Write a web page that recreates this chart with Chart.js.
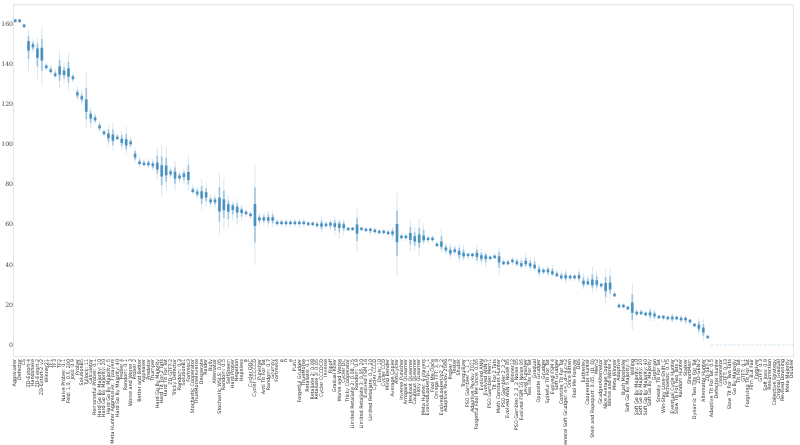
<!DOCTYPE html>
<html>
<head>
<meta charset="utf-8">
<title>Rank distribution</title>
<script src="https://cdn.jsdelivr.net/npm/chart.js@4.4.1/dist/chart.umd.min.js"></script>
<style>
  html, body { margin: 0; padding: 0; background: #fff; }
  #wrap { width: 800px; height: 445px; }
</style>
</head>
<body>
<div id="wrap"><canvas id="chart" width="800" height="445"></canvas></div>
<script>
/* ── Data ──────────────────────────────────────────────────── */
const strategies = [
  'Aggravater','Defector','CS','ZD-Extort-4','Handshake','ZD-Extort-2','ZD-Extort-2 v2','Winner21','TF1','TF3',
  'TF2','Naive Prober: 0.1','Feld: 1.0, 0.5, 200','Joss: 0.9','Prober','SolutionB5','Tullock: 11','Calculator','Remorseful Prober: 0.1','Hard Go By Majority: 10',
  'Hard Go By Majority: 20','Hard Go By Majority: 5','Meta Hunter Aggressive: 7 players','Hard Go By Majority: 40','Prober 4','Random: 0.1','Worse and Worse 3','Prober 2','Better and Better','Appeaser',
  'Predator','Thumper','Hard Go By Majority','Hard Tit For 2 Tats','Hard Tit For Tat','ZD-GTFT-2','Tricky Defector','Random: 0.3','SolutionB1','Fortress3',
  'Stochastic Cooperator','ThueMorseInverse','Desperate','Raider','Bully','Alternator','Stochastic WSLS: 0.05','Random: 0.5','SelfSteem','Hard Prober',
  'Negation','Hopeless','ϕ','Cycler DDC','Cycler CCCCCD','Punisher','Anti Tit For Tat','Random: 0.7','Grumpy','Fortress4',
  'φ','π','e','Pun1','Forgetful Grudger','ThueMorse','Retaliate: 0.1','Retaliate 2: 0.08','Retaliate 3: 0.05','Cycler CCCDCD',
  'Inverse','Ripoff','Gradual Killer','Worse and Worse','Cycler DC','Tricky Cooperator','Limited Retaliate 2: 0.08, 15','Random: 0.9','Limited Retaliate 3: 0.05, 20','Evolved FSM 16',
  'Limited Retaliate: 0.1, 20','Cycler CCCD','Davis: 10','Cycler CCD','Mind Bender','Average Copier','AntiCycler','Inverse Punisher','Arrogant QLearner','Hesitant QLearner',
  'Cautious QLearner','Risky QLearner','Meta Hunter: 6 players','EvolvedLookerUp1_1_1','Fool Me Once','Omega TFT: 3, 8','EvolvedLookerUp2_2_2','Adaptive Pavlov 2006','Prober 3','Tester',
  'Shubik','Tranquilizer','PSO Gambler 1_1_1','Adaptive Pavlov 2011','Forgetful Fool Me Once: 0.05','Evolved ANN','Evolved ANN 5','PSO Gambler Mem1','Tit For 2 Tats','Math Constant Hunter',
  'PSO Gambler 2_2_2','Evolved ANN 5 Noise 05','Winner12','PSO Gambler 2_2_2 Noise 05','Evolved FSM 16 Noise 05','Level Punisher','Two Tits For Tat','Gradual','Opposite Grudger','Grudger',
  'Spiteful Tit For Tat','Evolved FSM 4','Soft Grudger','Contrite Tit For Tat','General Soft Grudger: n=1,d=4,c=2','Once Bitten','Fool Me Forever','DBS','Eatherley','Cooperator Hunter',
  'Stein and Rapoport: 0.05, (D, D)','Mem2','GrudgerAlternator','Nice Average Copier','Worse and Worse 2','Meta Winner','Adaptive','Bush Mosteller','Soft Go By Majority: 5','Willing',
  'Soft Go By Majority: 10','Soft Go By Majority: 20','Soft Go By Majority: 40','Soft Go By Majority','Grofman','Sneaky Tit For Tat','Win-Stay Lose-Shift: C','Michaelos: 0.75','Eventual Cycle Hunter','Slow Tit For Two Tats 2',
  'Random Hunter','Stalker','ShortMem','Dynamic Two Tits For Tat','ZD-GEN-2','Alternator Hunter','ZD-SET-2','Adaptive Tit For Tat: 0.5','Defector Hunter','Cooperator',
  'GTFT: 0.33','Slow Tit For Two Tats','Go By Majority','Tit For Tat','GTFT: 0.1','Forgiving Tit For Tat','Firm But Fair','Forgiver','GTFT: 0.3','Soft Joss: 0.9',
  'Resurrection','Collective Strategy','Original Gradual','Revised Downing','Meta Majority','Doubler',
];

// median rank of each strategy
const medianRank = [
  162,162,159.5,150,149.5,146.5,145.5,139,137,135,
  137,136,136,133.5,125.5,123.5,119,114.5,113,109,
  106,104.5,103.5,103.5,102,101,101,94.5,91,90.5,
  90.5,90,89,87,87,86,85,84,85,84,
  77,76,75,75,72,72,70,70,69,69,
  68,67,66,65,65,63,63,63,63,61,
  61,61,61,61,61,61,60.5,60.5,60,60,
  60,60.5,60,60,59.5,58,58,58,58,57.5,
  57.5,57,56.5,56.5,56,56,56,54,54,54,
  53,53,53,53,53,50,50,48,46.5,47,
  46,45,45,45,45,44,44,43.5,44,43,
  41,41,42,41,40,41,40,39,37,37,
  37,36,35,34,34,34,34,34,31,31,
  31,31,30,29,29,25,19.5,19.5,18.5,18.5,
  16,16,15.5,15.5,15,14,14,13.5,13.5,13.5,
  13,13,12,10,9,7.5,4,0,0,0,
  0,0,0,0,0,0,0,0,0,0,
  0,0,0,0,0,0,
];

// lowest rank reached
const minRank = [
  161,161,158,137,146,133,130,137,135,133,
  128,131,127,131,122,120,108,108,110,106,
  104,99,97,102,97,95,98,91,89,89,
  88,87,83,74,77,83,77,81,80,77,
  75,73,67,69,69,69,55,58,58,62,
  60,62,64,63,40,60,60,59,59,59,
  59,59,59,59,59,59,59,59,58,56,
  58,57,55,53,55,57,57,47,57,56,
  55,55,55,55,54,53,35,52,52,47,
  47,45,50,51,51,49,46,45,43,45,
  41,42,43,43,40,40,39,42,43,35,
  40,40,40,39,38,38,37,37,34,35,
  34,34,34,32,31,32,32,31,28,29,
  26,27,28,20,23,24,18,18,17,7.5,
  14,15,14,12,12,13,12,12,11,12,
  11,10,10,9,5,2,3.5,0,0,0,
  0,0,0,0,0,0,0,0,0,0,
  0,0,0,0,0,0,
];

// highest rank reached
const maxRank = [
  163,163,161,158,153,154,159,141,140,138,
  147,141,146,136,129,127,136,119,116,112,
  108,110,111,106,107,109,104,99,94,93,
  93,93,99,100,99,89,92,87,88,95,
  80,79,83,81,75,75,86,83,75,72,
  73,70,68,67,90,66,66,67,67,63,
  63,63,63,63,63,63,62,62,62,64,
  62,63,64,63,63,59,59,68,59,59,
  59,59,58,58,58,59,76,56,56,63,
  59,63,61,55,55,52,58,51,51,50,
  51,50,46,46,50,48,47,45,46,49,
  43,43,44,44,44,46,44,44,41,39,
  40,40,38,37,38,36,36,38,36,35,
  39,37,31,38,39,27,21,21,20,31,
  18,18,17,19,18,15,15,15,16,15,
  15,15,13,11,14,13,4.5,0,0,0,
  0,0,0,0,0,0,0,0,0,0,
  0,0,0,0,0,0,
];

const yTicks = [0, 20, 40, 60, 80, 100, 120, 140, 160];

/* ── Violin-ish layers built from the read values ───────────── */
function _band(share, minHalf) {
  return medianRank.map((m, i) => {
    const lo = minRank[i], hi = maxRank[i];
    if (hi === lo) return null;
    const a = Math.min(m - share * (m - lo), m - minHalf);
    const b = Math.max(m + share * (hi - m), m + minHalf);
    return [a, b];
  });
}

const tailData = medianRank.map((m, i) => (maxRank[i] === minRank[i] ? null : [minRank[i], maxRank[i]]));
const bodyData = _band(0.55, 0.9);
const coreData = _band(0.22, 0.6);
const flatData = medianRank.map((m, i) => (maxRank[i] === minRank[i] ? [m - 0.3, m + 0.3] : null));

const BLUE = '31,119,180';

const framePlugin = {
  id: 'frame',
  beforeDatasetsDraw(chart) {
    const { ctx, chartArea: a } = chart;
    ctx.save();
    ctx.strokeStyle = '#e6e6e6';
    ctx.lineWidth = 1;
    ctx.strokeRect(Math.round(a.left) + 0.5, Math.round(a.top) + 0.5,
                   Math.round(a.right - a.left) - 1, Math.round(a.bottom - a.top) - 1);
    ctx.restore();
  },
};

function layer(data, alpha, pct) {
  return {
    data,
    backgroundColor: `rgba(${BLUE},${alpha})`,
    borderWidth: 0,
    barPercentage: pct,
    categoryPercentage: 1,
    grouped: false,
  };
}

new Chart(document.getElementById('chart'), {
  type: 'bar',
  data: {
    labels: strategies,
    datasets: [
      layer(flatData, 0.2, 0.65),
      layer(tailData, 0.2, 0.2),
      layer(bodyData, 0.32, 0.42),
      layer(coreData, 0.7, 0.62),
    ],
  },
  options: {
    responsive: false,
    animation: false,
    layout: { padding: { top: 3, right: 3, left: 0, bottom: 0 } },
    plugins: { legend: { display: false }, tooltip: { enabled: false } },
    scales: {
      x: {
        grid: { display: false, drawTicks: false },
        border: { display: false },
        ticks: {
          autoSkip: false,
          maxRotation: 90,
          minRotation: 90,
          padding: 2,
          color: '#333',
          font: { family: 'DejaVu Sans', size: 4.9 },
        },
        afterFit(scale) { scale.height = 88; },
      },
      y: {
        min: -6,
        max: 170.5,
        grid: { display: false, drawTicks: false },
        border: { display: false },
        ticks: {
          padding: 0,
          color: '#444',
          font: { family: 'DejaVu Serif', size: 6.2 },
        },
        afterBuildTicks(scale) { scale.ticks = yTicks.map(v => ({ value: v })); },
        afterFit(scale) { scale.width = 13; },
      },
    },
  },
  plugins: [framePlugin],
});
</script>
</body>
</html>
